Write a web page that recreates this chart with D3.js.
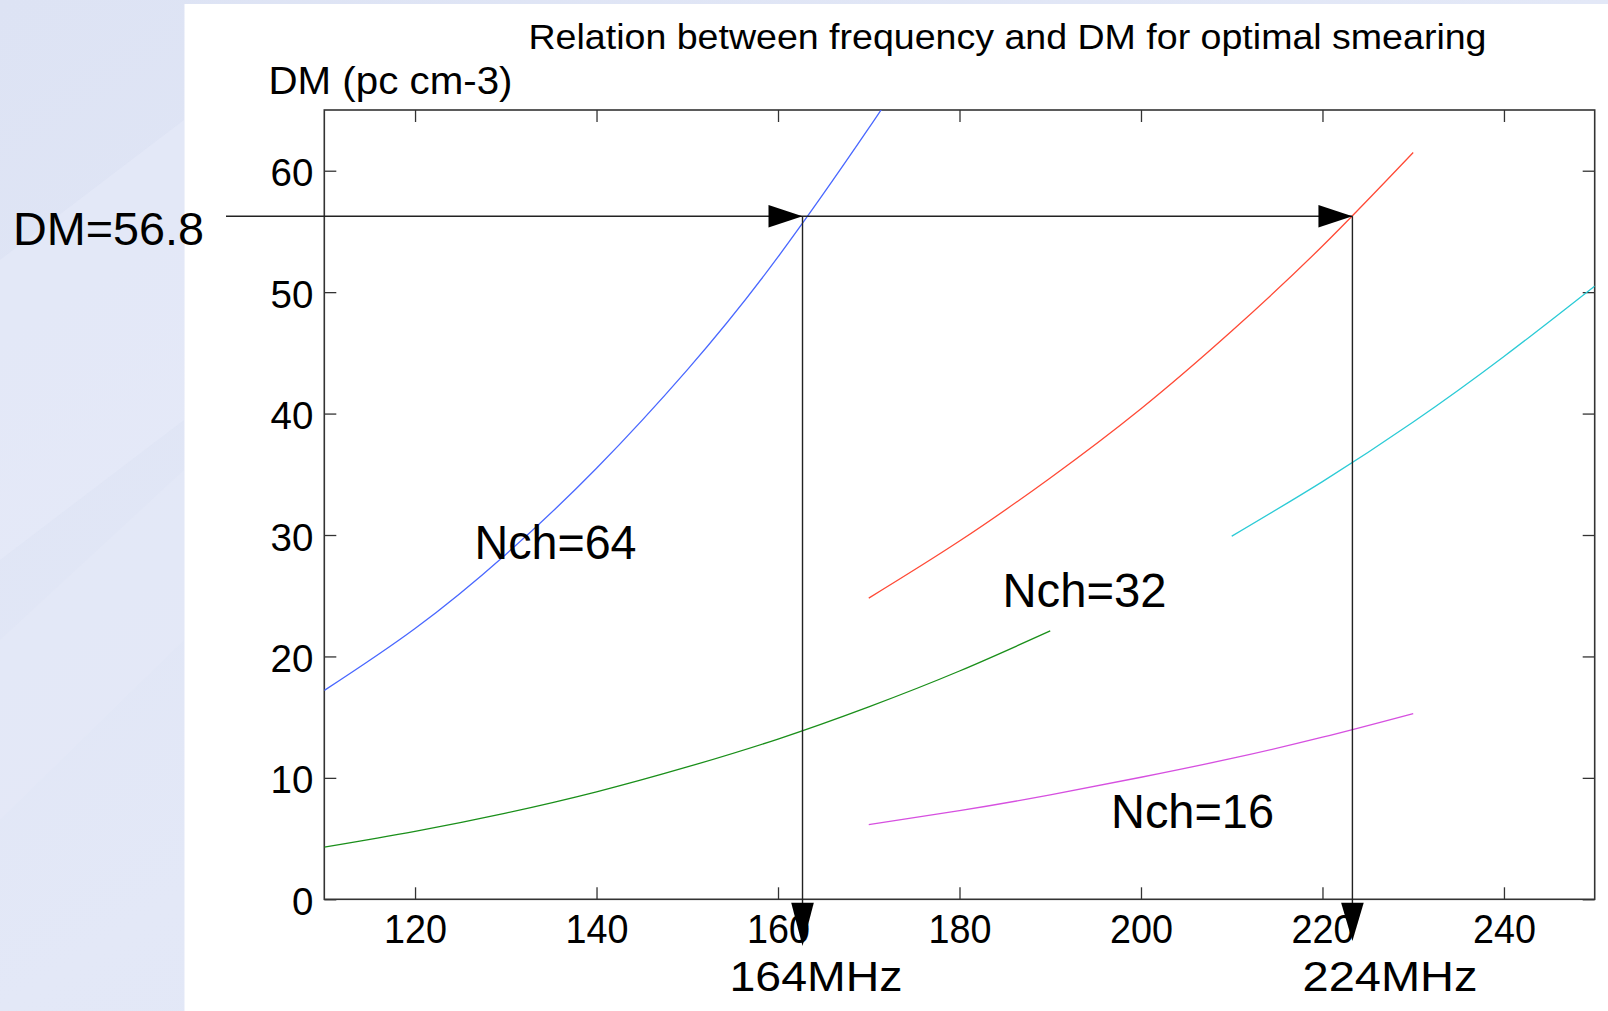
<!DOCTYPE html>
<html>
<head>
<meta charset="utf-8">
<script src="https://cdn.jsdelivr.net/npm/d3@7"></script>
<style>
  html, body { margin: 0; padding: 0; background: #ffffff; }
  svg { display: block; }
  text { font-family: "Liberation Sans", Arial, Helvetica, sans-serif; fill: #000; }
</style>
</head>
<body>
<svg id="chart" width="1608" height="1011"></svg>
<script>
// ---------------- DATA ----------------
const chartTitle = "Relation between frequency and DM for optimal smearing";
const yAxisTitle = "DM (pc cm-3)";
const xDomain = [110, 250];
const yDomain = [0, 65];
const xTicks = [120, 140, 160, 180, 200, 220, 240];
const yTicks = [0, 10, 20, 30, 40, 50, 60];

// Nch=64 (blue)
const freqBlue = [110, 120, 130, 140, 150, 160, 170, 172];
const dmBlue   = [17.2, 22.3, 28.4, 35.5, 43.6, 52.9, 63.5, 65.8];
// Nch=32 (red)
const freqRed = [170, 180, 190, 200, 210, 220, 230];
const dmRed   = [24.8, 29.5, 34.7, 40.4, 46.8, 53.8, 61.5];
// green
const freqGreen = [110, 120, 130, 140, 150, 160, 170, 180, 190];
const dmGreen   = [4.3, 5.6, 7.1, 8.85, 10.9, 13.2, 15.85, 18.8, 22.1];
// cyan
const freqCyan = [210, 220, 230, 240, 250];
const dmCyan   = [29.9, 34.4, 39.3, 44.7, 50.5];
// Nch=16 (magenta)
const freqMagenta = [170, 180, 190, 200, 210, 220, 230];
const dmMagenta   = [6.15, 7.3, 8.6, 10.05, 11.6, 13.35, 15.3];

// annotation (as drawn in the figure)
const markerDM = 56.25;
const markerDMLabel = "DM=56.8";
const markerFreqs = [162.7, 223.3];
const markerFreqLabels = ["164MHz", "224MHz"];

const curveLabels = ["Nch=64", "Nch=32", "Nch=16"];

// ---------------- LAYOUT ----------------
const svg = d3.select("#chart");
const W = 1608, H = 1011;
const plot = { left: 324.3, right: 1594.7, top: 110, bottom: 899.3 };

const x = d3.scaleLinear().domain(xDomain).range([plot.left, plot.right]);
const y = d3.scaleLinear().domain(yDomain).range([plot.bottom, plot.top]);

// background (slide)
const defs = svg.append("defs");
const grad = defs.append("linearGradient").attr("id", "bg")
  .attr("x1", "0").attr("y1", "0").attr("x2", "1").attr("y2", "1");
grad.append("stop").attr("offset", "0").attr("stop-color", "#dde3f4");
grad.append("stop").attr("offset", "0.5").attr("stop-color", "#e3e8f7");
grad.append("stop").attr("offset", "1").attr("stop-color", "#dfe5f5");
svg.append("rect").attr("width", W).attr("height", H).attr("fill", "url(#bg)");
svg.append("path").attr("d", "M0,260 L184,120 L184,420 L0,560 Z").attr("fill", "#e8ecf9").attr("opacity", 0.5);
svg.append("path").attr("d", "M0,640 L184,470 L184,640 L0,820 Z").attr("fill", "#e6eaf8").attr("opacity", 0.5);
svg.append("rect").attr("x", 184.5).attr("y", 4).attr("width", W - 184.5).attr("height", H - 4).attr("fill", "#ffffff");

defs.append("clipPath").attr("id", "plotclip").append("rect")
  .attr("x", plot.left).attr("y", plot.top)
  .attr("width", plot.right - plot.left).attr("height", plot.bottom - plot.top);

const font = "'Liberation Sans', Arial, sans-serif";

// title
svg.append("text").attr("x", 528.5).attr("y", 49.3)
  .attr("font-size", 35).attr("textLength", 958).attr("lengthAdjust", "spacingAndGlyphs")
  .text(chartTitle);
// y axis title
svg.append("text").attr("x", 268.5).attr("y", 94.3)
  .attr("font-size", 39).attr("textLength", 244).attr("lengthAdjust", "spacingAndGlyphs")
  .text(yAxisTitle);

// ---------------- AXES ----------------
const axisColor = "#333";
const tick = 12;

const gBottom = svg.append("g").attr("transform", `translate(0,${plot.bottom})`)
  .call(d3.axisBottom(x).tickValues(xTicks).tickSizeInner(-tick).tickSizeOuter(0).tickFormat(d3.format("d")));
gBottom.selectAll("text")
  .attr("y", 43.5).attr("dy", null)
  .attr("font-size", 40).attr("font-family", font).attr("fill", "#000")
  .attr("textLength", 63).attr("lengthAdjust", "spacingAndGlyphs");

const gTop = svg.append("g").attr("transform", `translate(0,${plot.top})`)
  .call(d3.axisTop(x).tickValues(xTicks).tickSizeInner(-tick).tickSizeOuter(0).tickFormat(""));

const gLeft = svg.append("g").attr("transform", `translate(${plot.left},0)`)
  .call(d3.axisLeft(y).tickValues(yTicks).tickSizeInner(-tick).tickSizeOuter(0).tickFormat(d3.format("d")));
gLeft.selectAll("text")
  .attr("x", -11).attr("dy", null).attr("y", 15)
  .attr("font-size", 38.5).attr("font-family", font).attr("fill", "#000");

const gRight = svg.append("g").attr("transform", `translate(${plot.right},0)`)
  .call(d3.axisRight(y).tickValues(yTicks).tickSizeInner(-tick).tickSizeOuter(0).tickFormat(""));

[gBottom, gTop, gLeft, gRight].forEach(g => {
  g.select(".domain").remove();
  g.selectAll("line").attr("stroke", axisColor).attr("stroke-width", 1.3);
});

svg.append("rect")
  .attr("x", plot.left).attr("y", plot.top)
  .attr("width", plot.right - plot.left).attr("height", plot.bottom - plot.top)
  .attr("fill", "none").attr("stroke", axisColor).attr("stroke-width", 1.6);

// ---------------- CURVES ----------------
const series = [
  { freq: freqBlue, dm: dmBlue, color: "#4a68ff" },
  { freq: freqRed, dm: dmRed, color: "#ff4a36" },
  { freq: freqGreen, dm: dmGreen, color: "#1a8f1a" },
  { freq: freqCyan, dm: dmCyan, color: "#2ccbd6" },
  { freq: freqMagenta, dm: dmMagenta, color: "#d650e0" }
];
const line = d3.line().x(d => x(d[0])).y(d => y(d[1])).curve(d3.curveNatural);
const gCurves = svg.append("g").attr("clip-path", "url(#plotclip)");
series.forEach(s => {
  const pts = s.freq.map((f, i) => [f, s.dm[i]]);
  gCurves.append("path").attr("d", line(pts))
    .attr("fill", "none").attr("stroke", s.color).attr("stroke-width", 1.3);
});

// curve labels
const labelPos = [
  { x: 474.5, y: 559, len: 162 },
  { x: 1002.5, y: 606.5, len: 164 },
  { x: 1111, y: 828, len: 163 }
];
curveLabels.forEach((t, i) => {
  svg.append("text").attr("x", labelPos[i].x).attr("y", labelPos[i].y)
    .attr("font-size", 48).attr("textLength", labelPos[i].len).attr("lengthAdjust", "spacingAndGlyphs")
    .text(t);
});

// ---------------- ANNOTATIONS ----------------
const annColor = "#222";
const yMark = y(markerDM);
const xMarks = markerFreqs.map(f => x(f));

svg.append("line").attr("x1", 226).attr("x2", xMarks[1]).attr("y1", yMark).attr("y2", yMark)
  .attr("stroke", annColor).attr("stroke-width", 1.4);
xMarks.forEach(xm => {
  svg.append("line").attr("x1", xm).attr("x2", xm).attr("y1", yMark).attr("y2", 905)
    .attr("stroke", annColor).attr("stroke-width", 1.4);
  // right-pointing arrowhead
  svg.append("path")
    .attr("d", `M${xm},${yMark} L${xm - 34},${yMark - 11.3} L${xm - 34},${yMark + 11.3} Z`)
    .attr("fill", "#000");
});

// DM label
svg.append("text").attr("x", 13).attr("y", 245)
  .attr("font-size", 46).attr("textLength", 191).attr("lengthAdjust", "spacingAndGlyphs")
  .text(markerDMLabel);

// frequency labels
const freqLabelX = [729.5, 1302.5];
const freqLabelLen = [173, 175];
markerFreqLabels.forEach((t, i) => {
  svg.append("text").attr("x", freqLabelX[i]).attr("y", 991)
    .attr("font-size", 43).attr("textLength", freqLabelLen[i]).attr("lengthAdjust", "spacingAndGlyphs")
    .text(t);
});

// downward arrowheads (over tick labels)
const arrowTips = [946, 941];
xMarks.forEach((xm, i) => {
  svg.append("path")
    .attr("d", `M${xm - 11.3},902.7 L${xm + 11.3},902.7 L${xm},${arrowTips[i]} Z`)
    .attr("fill", "#000");
});
</script>
</body>
</html>
